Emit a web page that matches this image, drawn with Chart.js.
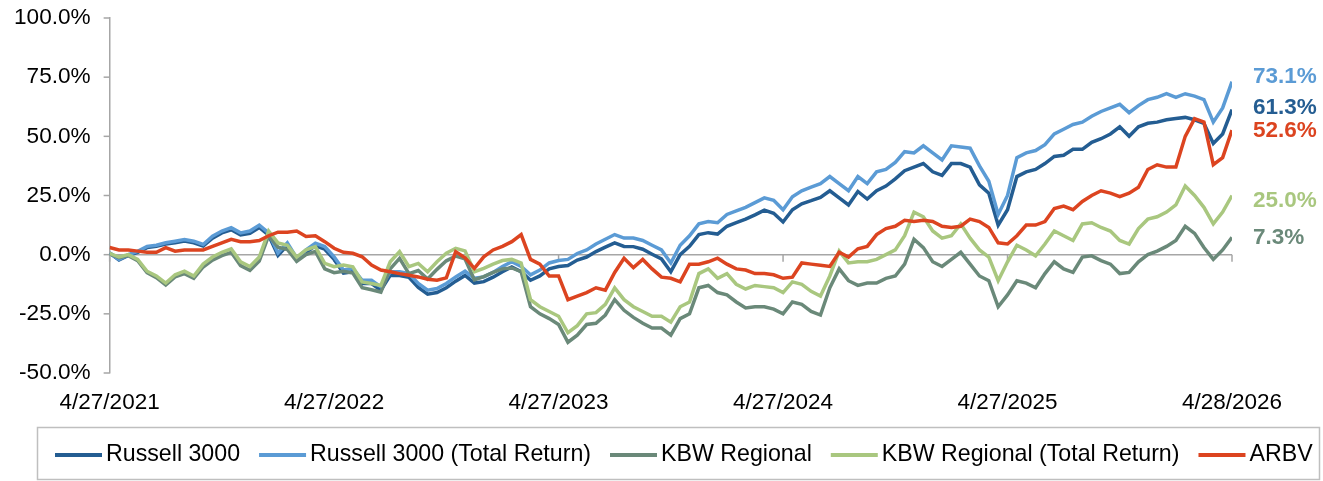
<!DOCTYPE html>
<html>
<head>
<meta charset="utf-8">
<script src="https://cdn.jsdelivr.net/npm/chart.js@4.4.1/dist/chart.umd.min.js"></script>
<style>
html, body { margin: 0; padding: 0; background: #fff; }
#wrap { width: 1323px; height: 481px; position: relative; }
</style>
</head>
<body>
<div id="wrap"><canvas id="perfChart"></canvas></div>
<script>
// x axis: semi-monthly samples 0..120, year ticks every 24 samples
const tickLabels = ['4/27/2021', '4/27/2022', '4/27/2023', '4/27/2024', '4/27/2025', '4/28/2026'];
const seriesNames = ['Russell 3000', 'Russell 3000 (Total Return)', 'KBW Regional', 'KBW Regional (Total Return)', 'ARBV'];
const seriesColors = ['#245d92', '#5b9bd5', '#6a8979', '#a9c77f', '#dc4420'];

// cumulative return, %
const russell = [
  0.7, -2.2, -0.3, 1, 3, 3.5, 4.5, 5, 5.8, 5, 3.7, 7, 9.2, 10.5, 8.3, 9, 11.5, 8.2, -0.3, 4, -2.5,
  1, 3.7, 2.3, -2, -7.8, -7.2, -12.2, -12.2, -15, -8.7, -8.8, -9.6, -13.8, -16.7, -16, -14, -11.2, -8.8, -12, -11.4,
  -9.5, -7.2, -5.2, -7.2, -10.8, -9, -6, -5, -4.6, -2.3, -1, 1.3, 3.2, 5, 3.5, 3.4, 2.3, 0.2, -1.8, -7.2,
  0, 3.5, 8.5, 9.3, 8.7, 12, 13.5, 15, 16.8, 18.8, 17.5, 13.8, 19, 21.5, 22.8, 24.2, 27, 24, 21, 26.7,
  23.5, 27, 29, 32, 35.5, 37, 38.5, 35, 33.5, 38.5, 38.5, 37, 29.5, 26, 12.5, 19, 33, 35, 36, 38.5,
  41.5, 42, 44.5, 44.5, 47.5, 49, 51, 54, 50, 54, 55.5, 56, 57, 57.5, 58, 57, 55.5, 47, 51, 61.3
];
const russellTR = [
  0.7, -2, 0, 1.4, 3.5, 4, 5, 5.7, 6.4, 5.7, 4.3, 7.8, 10, 11.4, 9.2, 10, 12.5, 9.2, 0.7, 5, -1.4,
  2, 4.8, 3.4, -0.9, -6.5, -5.8, -10.8, -10.8, -13.6, -7.2, -7.2, -8, -12.2, -15, -14.3, -12.2, -9.4, -7, -10, -9.4,
  -7.5, -5, -3, -5, -8.5, -6.5, -3.5, -2.5, -2, 0.5, 2, 4.5, 6.5, 8.5, 7, 7, 6, 4, 2, -3.5,
  4, 8, 13, 14, 13.5, 17, 18.5, 20, 22, 24, 23, 19, 24.5, 27, 28.5, 30, 33, 30, 27, 33,
  30, 35, 36, 39, 43.5, 43, 46, 43, 40, 46, 45.5, 45, 37.5, 31, 17, 25, 41, 43, 44, 46.5,
  51, 53, 55, 56, 58.5, 60.5, 62, 63.5, 60, 63, 65.5, 66.5, 68, 66.5, 68, 67, 65.5, 56, 62, 73.1
];
const kbw = [
  0.3, -1.3, -0.4, -2.5, -7.6, -9.7, -12.8, -9.4, -8, -10, -5.2, -2.3, -0.4, 1, -4.6, -6.6, -2.7, 8, 3.2, 2.2, -2.8,
  0, 1.4, -6, -7.6, -7, -7.8, -14, -14.8, -15.8, -6, -1.6, -8, -6.7, -10.3, -6.2, -2.6, -0.6, -1.8, -10.6, -9.3,
  -7.5, -6, -5.6, -7.2, -22, -25, -27, -29.5, -37, -34, -29.5, -29, -25.5, -19, -23.5, -26.5, -29, -31, -31, -34,
  -27, -25, -14, -13, -16, -17, -20, -22.5, -22, -22, -23, -25, -20, -21, -24, -25.5, -14, -6, -11, -13,
  -12, -12, -10, -9, -4, 6.5, 3, -3, -5, -2, 1, -4, -9, -11, -22, -17, -11, -12, -14, -8,
  -3, -6, -7.5, -1, -0.5, -2.5, -4, -8, -7.5, -3, 0, 1.5, 3.5, 6, 12, 9, 3, -2, 2, 7.3
];
const kbwTR = [
  0.5, -1, 0, -2, -7, -9, -12, -8.5, -7, -9, -4, -1, 1, 2.5, -3, -5, -1, 10, 5, 4, -1,
  2, 3.4, -3.7, -5.1, -4.4, -5.1, -11.5, -12.2, -13, -3, 1.3, -5.1, -3.7, -7.2, -3, 0.6, 2.7, 1.6, -7.2, -5.8,
  -4, -2.5, -2, -3.5, -19, -22, -24, -26, -33, -30, -25, -24.5, -21, -14, -19, -22, -24, -26, -26, -28.5,
  -22, -20, -8, -6, -10, -8, -12.5, -14.5, -13, -13.5, -14, -16, -11.5, -12.5, -15.5, -17.5, -9, 1.5, -3.5, -3,
  -3, -2, 0, 2, 8, 18, 16, 10, 7, 8, 13, 7, 2, -1, -11, -3, 4, 2, -0.5, 4.5,
  10, 8, 6, 13, 13.5, 11.5, 10, 6, 4.5, 11, 15, 16, 18, 21, 29, 25, 20, 13, 18, 25
];
const arbv = [
  3, 2, 2, 1.5, 1, 1, 3, 1.5, 2, 2, 2, 3.5, 5, 6.5, 5.5, 5.5, 6, 8, 9.5, 9.5, 10,
  7.7, 8, 5.5, 2.7, 1, 0.6, -0.9, -4.4, -6.5, -7.2, -8, -8.7, -9.4, -10.4, -10.8, -9.8, 1.3, -1.3, -5.8, -0.9,
  2, 3.5, 5.5, 8.5, -2, -4, -9, -9, -19, -17.5, -16, -14, -15, -7.5, -1.5, -5.5, -2, -6, -9.5, -10,
  -11.5, -4, -4, -3, -1.5, -4, -6, -6.5, -8, -8, -8.5, -10, -9.5, -3.5, -4, -4.5, -5, 1, -1, 2.5,
  3.5, 8.5, 11, 12, 14.5, 14, 14.5, 14, 12, 11.5, 12, 15, 14, 11.5, 5, 4.5, 8, 12.5, 12.5, 14,
  19.5, 20.5, 19, 22.5, 25, 27, 26, 24.5, 26, 28.5, 36, 38, 37, 37, 50, 57.5, 56, 38, 41, 52.6
];
const allSeries = [russell, russellTR, kbw, kbwTR, arbv];

// vertical nudge (px) for the end-value labels so they don't collide
const labelNudge = [-2, -4.5, 0, 5.5, 1];

const FONT = '"Liberation Sans", Arial, sans-serif';
const AXIS_GREY = '#a6a6a6';
Chart.defaults.font.family = FONT;
Chart.defaults.color = '#000';

// short tick marks: down from the zero line at each date tick, left of the y axis at each value tick
const axisTicks = {
  id: 'axisTicks',
  beforeDatasetsDraw(chart) {
    const { ctx, scales: { x, y } } = chart;
    const y0 = y.getPixelForValue(0);
    ctx.save();
    ctx.strokeStyle = AXIS_GREY;
    ctx.lineWidth = 1.5;
    x.ticks.forEach(t => {
      const px = x.getPixelForValue(t.value);
      ctx.beginPath();
      ctx.moveTo(px, y0);
      ctx.lineTo(px, y0 + 7);
      ctx.stroke();
    });
    y.ticks.forEach(t => {
      const py = y.getPixelForValue(t.value);
      ctx.beginPath();
      ctx.moveTo(y.right, py);
      ctx.lineTo(y.right - 6, py);
      ctx.stroke();
    });
    ctx.restore();
  }
};

const endLabels = {
  id: 'endLabels',
  afterDatasetsDraw(chart) {
    const { ctx, chartArea, scales: { y } } = chart;
    ctx.save();
    ctx.font = 'bold 22.5px ' + FONT;
    ctx.textBaseline = 'middle';
    ctx.textAlign = 'left';
    chart.data.datasets.forEach((ds, i) => {
      const last = ds.data[ds.data.length - 1].y;
      ctx.fillStyle = ds.borderColor;
      ctx.fillText(last.toFixed(1) + '%', chartArea.right + 21, y.getPixelForValue(last) + labelNudge[i]);
    });
    ctx.restore();
  }
};

const legendBox = {
  id: 'legendBox',
  afterDraw(chart) {
    const ctx = chart.ctx;
    ctx.save();
    ctx.strokeStyle = '#bfbfbf';
    ctx.lineWidth = 1.5;
    ctx.strokeRect(37.5, 427.5, 1282, 52);
    ctx.font = '23.2px ' + FONT;
    ctx.textBaseline = 'middle';
    let x = 55;
    const y = 455;
    chart.data.datasets.forEach(ds => {
      ctx.strokeStyle = ds.borderColor;
      ctx.lineWidth = 4;
      ctx.beginPath();
      ctx.moveTo(x, y);
      ctx.lineTo(x + 47, y);
      ctx.stroke();
      x += 51;
      ctx.fillStyle = '#000';
      ctx.fillText(ds.label, x, y);
      x += ctx.measureText(ds.label).width + 19;
    });
    ctx.restore();
  }
};

new Chart(document.getElementById('perfChart'), {
  type: 'line',
  data: {
    datasets: allSeries.map((vals, i) => ({
      label: seriesNames[i],
      data: vals.map((v, k) => ({ x: k, y: v })),
      borderColor: seriesColors[i],
      backgroundColor: seriesColors[i],
      borderWidth: 3.5,
      pointRadius: 0,
      tension: 0,
      order: allSeries.length - i
    }))
  },
  options: {
    responsive: true,
    maintainAspectRatio: false,
    animation: false,
    events: [],
    layout: { padding: { left: 14, right: 91, top: 18, bottom: 49 } },
    plugins: { legend: { display: false }, tooltip: { enabled: false } },
    scales: {
      x: {
        type: 'linear',
        min: 0,
        max: 120,
        grid: { display: false, drawTicks: false },
        border: { display: false },
        ticks: {
          stepSize: 24,
          autoSkip: false,
          maxRotation: 0,
          padding: 16,
          font: { size: 22.5 },
          callback: v => tickLabels[v / 24] ?? ''
        }
      },
      y: {
        min: -50,
        max: 100,
        grid: {
          color: c => (c.tick && c.tick.value === 0 ? AXIS_GREY : 'rgba(0,0,0,0)'),
          lineWidth: 1.5,
          tickColor: 'rgba(0,0,0,0)',
          tickLength: 19
        },
        border: { color: AXIS_GREY, width: 1.5 },
        ticks: {
          stepSize: 25,
          padding: 0,
          font: { size: 22.6 },
          callback: v => v.toFixed(1) + '%'
        }
      }
    }
  },
  plugins: [axisTicks, endLabels, legendBox]
});
</script>
</body>
</html>
